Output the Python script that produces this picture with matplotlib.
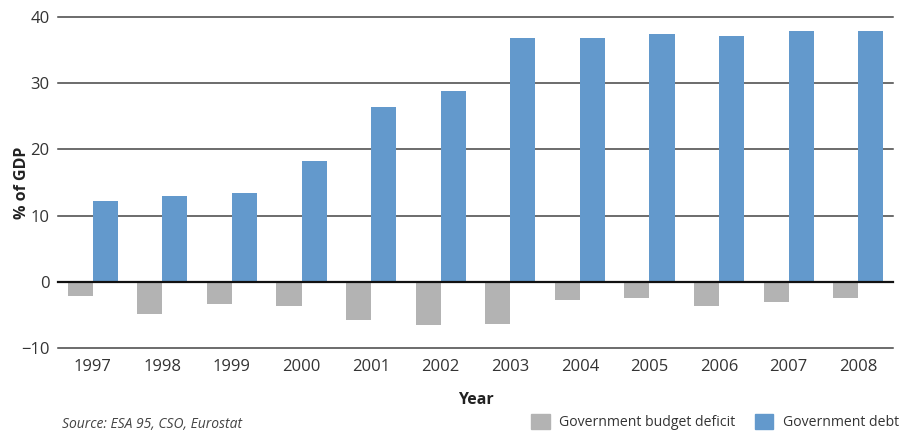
import matplotlib
matplotlib.use("Agg")
import matplotlib.pyplot as plt
import numpy as np
from matplotlib.patches import Patch

years = ["1997", "1998", "1999", "2000", "2001", "2002",
         "2003", "2004", "2005", "2006", "2007", "2008"]
deficit = [-2.2, -4.9, -3.4, -3.6, -5.8, -6.6, -6.4, -2.8, -2.5, -3.7, -3.1, -2.5]
debt = [12.2, 13.0, 13.4, 18.3, 26.4, 28.8, 36.8, 36.8, 37.4, 37.1, 37.9, 37.9]

C_DEF = "#b3b3b3"
C_DEBT = "#6399cc"
TXT = "#333333"

plt.rcParams["font.family"] = ["Open Sans", "DejaVu Sans"]

fig = plt.figure(figsize=(9.05, 4.32), dpi=100)
ax = fig.add_axes([58 / 905, 1 - 348 / 432, 835 / 905, 331 / 432])

x = np.arange(len(years))
w = 0.36
ax.bar(x - w / 2, deficit, w, color=C_DEF, zorder=3)
ax.bar(x + w / 2, debt, w, color=C_DEBT, zorder=3)

ax.set_xlim(-0.5, len(years) - 0.5)
ax.set_ylim(-10, 40)
ax.set_yticks([-10, 0, 10, 20, 30, 40])
ax.set_xticks(x)
ax.set_xticklabels(years)
for yv in [-10, 10, 20, 30, 40]:
    ax.axhline(yv, color="#444444", linewidth=1.1, zorder=1, clip_on=False)
ax.axhline(0, color="#111111", linewidth=1.6, zorder=4, clip_on=False)

for s in ax.spines.values():
    s.set_visible(False)
ax.tick_params(length=0, labelsize=12, colors=TXT)
ax.tick_params(axis="x", pad=8)
ax.tick_params(axis="y", pad=6)

ax.set_ylabel("% of GDP", fontsize=11.5, fontweight="bold", color="#222222")
ax.yaxis.set_label_coords(-0.034, 0.5)
ax.set_xlabel("Year", fontsize=11.5, fontweight="bold", color="#222222", labelpad=12)

fig.text(62 / 905, 1 - 424 / 432, "Source: ESA 95, CSO, Eurostat",
         fontsize=10, style="italic", color="#444444", va="center")

handles = [Patch(color=C_DEF, label="Government budget deficit"),
           Patch(color=C_DEBT, label="Government debt")]
fig.legend(handles=handles, loc="center right", bbox_to_anchor=(905 / 905, 1 - 422 / 432),
           ncol=2, frameon=False, fontsize=10.1, handlelength=1.35, handleheight=1.35,
           handletextpad=0.7, columnspacing=1.35, labelcolor="#333333", borderaxespad=0)

fig.savefig("out.png", dpi=100)
plt.close(fig)
